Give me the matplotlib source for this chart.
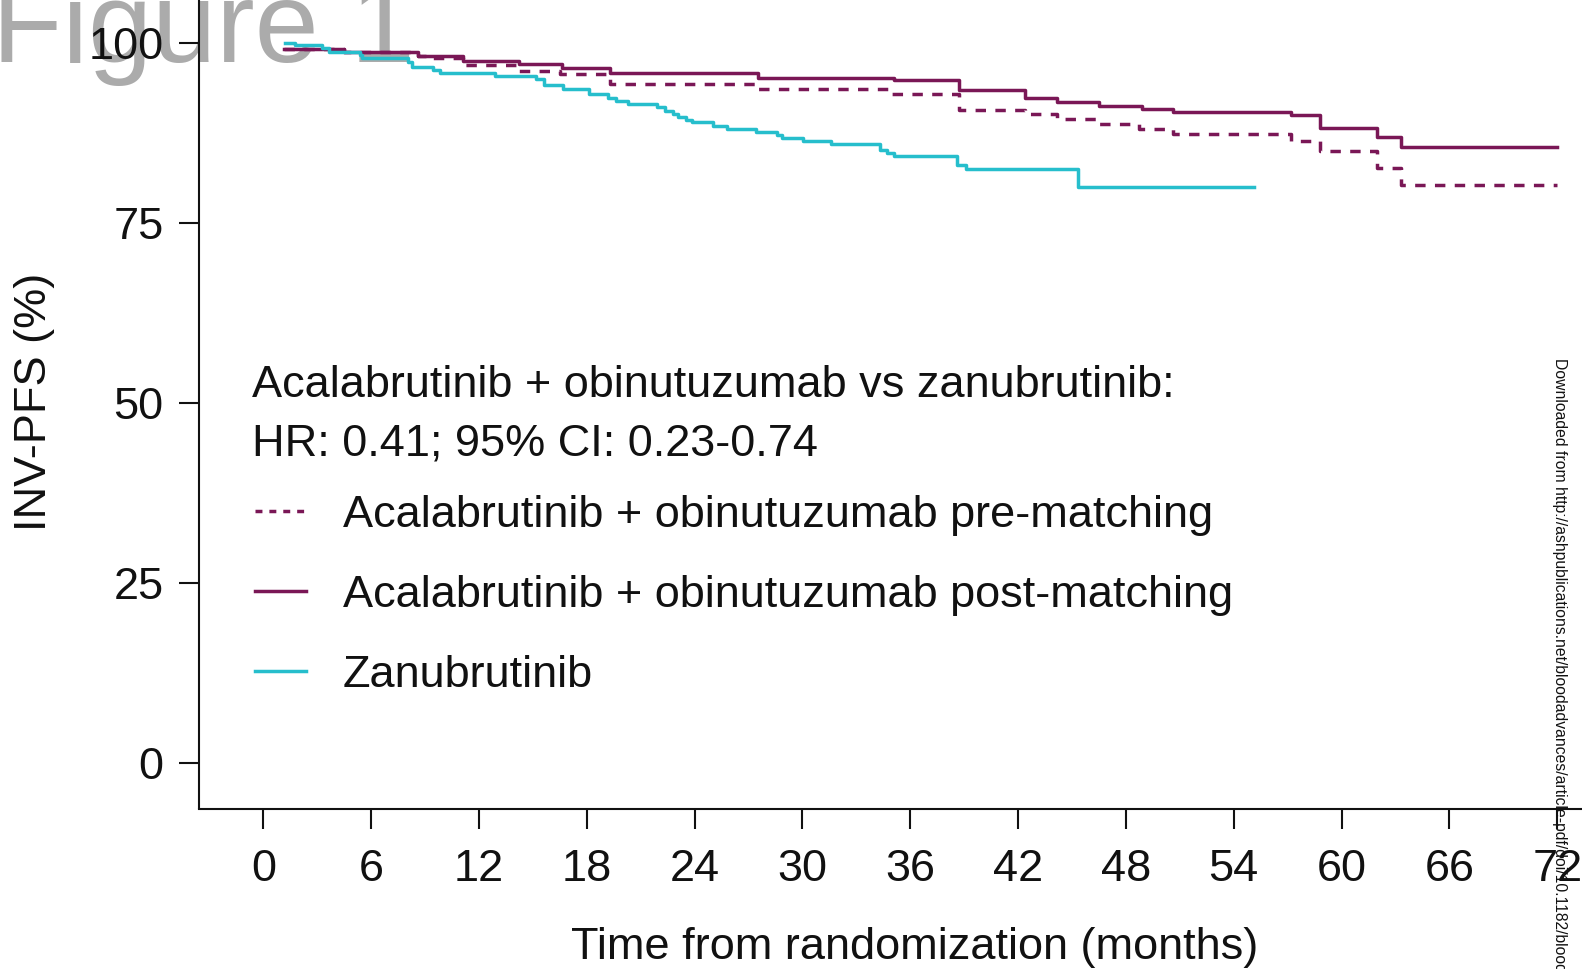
import matplotlib
matplotlib.use('Agg')
import matplotlib.pyplot as plt
from matplotlib.lines import Line2D

plt.rcParams['font.family'] = ['Liberation Sans', 'DejaVu Sans']

# ---------------- data ----------------
x_ticks = [0, 6, 12, 18, 24, 30, 36, 42, 48, 54, 60, 66, 72]
y_ticks = [0, 25, 50, 75, 100]

# Zanubrutinib
zanu_t = [1.2, 1.76, 3.25, 3.64, 5.38, 5.47, 8.07, 8.26, 9.46, 9.83, 12.9, 15.2,
          15.6, 16.7, 18.1, 19.2, 19.6, 20.3, 21.9, 22.35, 22.8, 23.1, 23.5,
          23.85, 25.0, 25.8, 27.4, 28.6, 28.85, 30.05, 31.6, 34.3, 34.7, 35.1,
          38.6, 39.1, 45.35]
zanu_s = [100.0, 99.6, 99.2, 98.7, 98.3, 97.8, 97.3, 96.6, 96.2, 95.7, 95.35, 94.9,
          94.1, 93.6, 92.9, 92.3, 91.9, 91.5, 91.0, 90.5, 90.1, 89.6, 89.2,
          88.9, 88.4, 88.0, 87.6, 87.2, 86.7, 86.3, 85.9, 85.1, 84.6, 84.2,
          83.0, 82.4, 79.9]
zanu_end = 55.1

# Acalabrutinib + obinutuzumab post-matching
post_t = [1.13, 4.5, 8.63, 11.1, 14.2, 16.6, 19.3, 27.5, 35.1, 38.7, 42.4, 44.15,
          46.5, 48.9, 50.6, 57.2, 58.8, 62.0, 63.3]
post_s = [99.1, 98.7, 98.1, 97.5, 97.0, 96.5, 95.7, 95.1, 94.8, 93.4, 92.3, 91.8,
          91.2, 90.8, 90.3, 89.9, 88.2, 86.9, 85.5]
post_end = 72.0

# Acalabrutinib + obinutuzumab pre-matching
pre_t = [1.13, 4.5, 8.63, 9.4, 11.1, 14.1, 16.5, 19.3, 27.45, 35.0, 38.7, 42.4,
         44.15, 46.4, 48.75, 50.6, 57.2, 58.8, 62.0, 63.3]
pre_s = [99.1, 98.7, 98.1, 97.9, 96.9, 96.1, 95.6, 94.2, 93.5, 92.8, 90.7, 90.1,
         89.4, 88.7, 88.0, 87.3, 86.3, 84.9, 82.6, 80.2]
pre_end = 72.0

labels = ['Acalabrutinib + obinutuzumab pre-matching',
          'Acalabrutinib + obinutuzumab post-matching',
          'Zanubrutinib']
header1 = 'Acalabrutinib + obinutuzumab vs zanubrutinib:'
header2 = 'HR: 0.41; 95% CI: 0.23-0.74'

# ---------------- style ----------------
PURPLE = '#7A1756'
TEAL = '#26BECC'
TXT = '#111111'
FS = 32.5
LW = 2.5
W, H = 1582, 969

fig = plt.figure(figsize=(W / 100, H / 100), dpi=100)
ax = fig.add_axes([199 / W, 1 - 808.5 / H, 1 - 199 / W, 808.5 / H])
ax.patch.set_visible(False)

ax.step(pre_t + [pre_end], pre_s + [pre_s[-1]], where='post', color=PURPLE,
        lw=LW, dashes=(3.0, 2.7), dash_capstyle='butt')
ax.step(post_t + [post_end], post_s + [post_s[-1]], where='post', color=PURPLE,
        lw=LW)
ax.step(zanu_t + [zanu_end], zanu_s + [zanu_s[-1]], where='post', color=TEAL,
        lw=LW)

ax.set_xlim(-3.58, 73.38)
ax.set_ylim(-6.31, 105.9)
ax.set_xticks(x_ticks)
ax.set_yticks(y_ticks)
for s in ['top', 'right']:
    ax.spines[s].set_visible(False)
for s in ['left', 'bottom']:
    ax.spines[s].set_linewidth(1.5)
    ax.spines[s].set_color(TXT)
ax.tick_params(axis='both', direction='out', length=14.4, width=1.5,
               labelsize=FS, colors=TXT)
ax.tick_params(axis='x', pad=14.5)
ax.tick_params(axis='y', pad=11)

fig.text(35 / W, 1 - 402 / H, 'INV-PFS (%)', rotation=90, ha='center',
         va='center', fontsize=FS, color=TXT)
fig.text(915 / W, 1 - 959 / H, 'Time from randomization (months)', ha='center',
         va='baseline', fontsize=FS, color=TXT)

fig.text(251.5 / W, 1 - 396.7 / H, header1, ha='left', va='baseline',
         fontsize=FS, color=TXT)
fig.text(251.5 / W, 1 - 455.7 / H, header2, ha='left', va='baseline',
         fontsize=FS, color=TXT)

handles = [Line2D([], [], color=PURPLE, lw=LW, dashes=(2.0, 2.0)),
           Line2D([], [], color=PURPLE, lw=LW),
           Line2D([], [], color=TEAL, lw=LW)]
leg = ax.legend(handles, labels, loc='upper left',
                bbox_to_anchor=(255 / W, 1 - 494.5 / H),
                bbox_transform=fig.transFigure, frameon=False, fontsize=FS,
                borderpad=0, borderaxespad=0, handlelength=1.12,
                handletextpad=0.82, labelspacing=0.87)
for t in leg.get_texts():
    t.set_color(TXT)

# big grey label and side watermark
fig.text(-8 / W, 1 - 62 / H, 'Figure 1', ha='left', va='baseline',
         fontsize=83, color='#ABABAB', zorder=-1)
fig.text(1559 / W, 1 - 358 / H,
         'Downloaded from http://ashpublications.net/bloodadvances/article-pdf/doi/'
         '10.1182/bloodadvances.2023011362/2186000/bloodadvances.2023011362.pdf',
         rotation=-90, ha='center', va='top', fontsize=11.3, color=TXT)

fig.savefig('out.png', dpi=100)
